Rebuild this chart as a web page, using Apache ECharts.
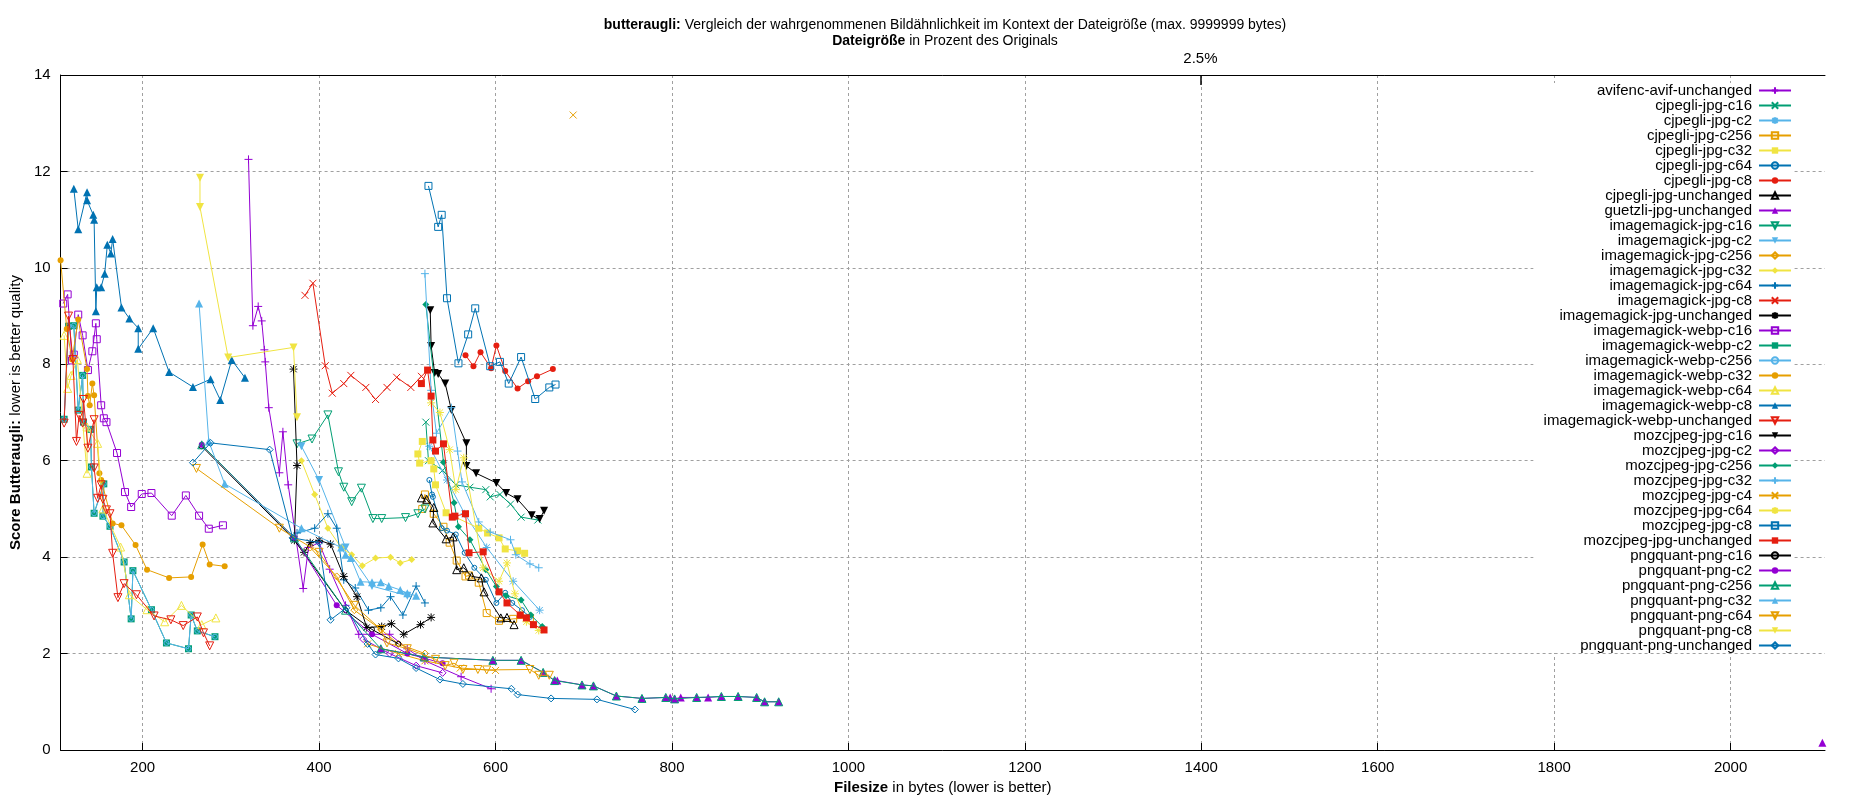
<!DOCTYPE html>
<html><head><meta charset="utf-8">
<script src="https://cdn.jsdelivr.net/npm/echarts@6/dist/echarts.min.js"></script>
<style>html,body{margin:0;padding:0;background:#fff}#c{width:1850px;height:800px}</style>
</head><body><div id="c"></div>
<script>
const xTicks=[200,400,600,800,1000,1200,1400,1600,1800,2000];
const yTicks=[0,2,4,6,8,10,12,14];
const seriesNames=["avifenc-avif-unchanged","cjpegli-jpg-c16","cjpegli-jpg-c2","cjpegli-jpg-c256","cjpegli-jpg-c32","cjpegli-jpg-c64","cjpegli-jpg-c8","cjpegli-jpg-unchanged","guetzli-jpg-unchanged","imagemagick-jpg-c16","imagemagick-jpg-c2","imagemagick-jpg-c256","imagemagick-jpg-c32","imagemagick-jpg-c64","imagemagick-jpg-c8","imagemagick-jpg-unchanged","imagemagick-webp-c16","imagemagick-webp-c2","imagemagick-webp-c256","imagemagick-webp-c32","imagemagick-webp-c64","imagemagick-webp-c8","imagemagick-webp-unchanged","mozcjpeg-jpg-c16","mozcjpeg-jpg-c2","mozcjpeg-jpg-c256","mozcjpeg-jpg-c32","mozcjpeg-jpg-c4","mozcjpeg-jpg-c64","mozcjpeg-jpg-c8","mozcjpeg-jpg-unchanged","pngquant-png-c16","pngquant-png-c2","pngquant-png-c256","pngquant-png-c32","pngquant-png-c64","pngquant-png-c8","pngquant-png-unchanged"];
const avifencAvifUnchanged=[[320,12.25],[325,8.8],[331,9.2],[335,8.9],[338,8.3],[339,8.05],[343,7.1],[355,5.75],[359,6.6],[365,5.5],[382,3.35],[388,4.2],[400,4.3],[412,3.75],[430,3.0],[445,2.4],[480,2.4],[500,2.1],[520,1.85],[561,1.52],[595,1.27]];
const cjpegliC16=[[521,6.8],[524,6.0],[540,5.8],[555,5.5],[571,5.45],[589,5.4],[594,5.25],[605,5.3],[617,5.1],[629,4.83],[648,4.77]];
const cjpegliC2=[[525,6.3],[545,5.6],[565,4.9],[590,4.2],[620,3.5],[650,2.9]];
const cjpegliC256=[[517,5.0],[520,5.3],[530,4.9],[541,4.63],[548,4.3],[556,3.93],[566,3.6],[570,3.62],[581,3.47],[590,2.84],[604,2.68],[620,2.72],[639,2.74]];
const cjpegliC32=[[517,6.4],[512,6.14],[514,5.95],[527,6.0],[530,5.83],[532,5.5],[544,4.92],[581,4.6],[591,4.5],[604,4.4],[611,4.17],[625,4.13],[633,4.08]];
const cjpegliC64=[[525,5.6],[528,5.3],[529,5.25],[539,4.6],[545,4.55],[555,4.47],[565,4.09],[576,3.78],[589,3.53],[601,3.05],[611,3.26],[619,3.05],[630,2.9],[639,2.76]];
const cjpegliC8=[[566,8.19],[575,7.96],[583,8.25],[595,7.92],[601,8.39],[611,7.86],[625,7.5],[637,7.65],[647,7.75],[665,7.9]];
const cjpegliUnchanged=[[516,5.23],[522,5.2],[530,5.03],[529,4.71],[544,4.38],[552,4.42],[556,3.74],[564,3.78],[573,3.6],[584,3.57],[587,3.28],[606,2.74],[613,2.75],[621,2.6]];
const guetzliJpgUnchanged=[[470,2.1],[519,1.93],[597,1.86],[629,1.86],[654,1.61],[667,1.44],[670,1.44],[698,1.35],[711,1.33],[737,1.12],[766,1.07],[793,1.09],[798,1.09],[803,1.06],[810,1.09],[828,1.09],[841,1.09],[856,1.11],[875,1.11],[896,1.09],[905,1.0],[921,1.0],null,[2104,0.15]];
const imJpgC16=[[375,6.35],[392,6.45],[410,6.95],[422,5.77],[428,5.45],[437,5.15],[448,5.43],[461,4.8],[471,4.8],[498,4.82],[512,4.9],[520,5.0]];
const imJpgC2=[[380,6.3],[400,5.6],[430,4.2],[460,3.4],[500,3.2]];
const imJpgC256=[[390,4.2],[420,3.6],[440,2.9],[470,2.5],[490,2.2],[520,2.0]];
const imJpgC32=[[380,6.0],[395,5.3],[410,4.6],[425,4.2],[437,4.05],[449,3.82],[464,3.98],[481,4.0],[492,3.88],[505,3.95]];
const imJpgC64=[[375,4.5],[395,4.6],[410,4.9],[420,4.6],[428,3.53],[441,3.36],[456,2.9],[470,2.95],[481,3.18],[495,2.8],[510,3.4],[520,3.05]];
const imJpgC8=[[384,9.43],[393,9.68],[407,7.97],[415,7.4],[428,7.6],[436,7.77],[453,7.52],[464,7.27],[477,7.52],[488,7.73],[504,7.52],[516,7.75]];
const imJpgUnchanged=[[371,7.9],[375,5.9],[372,4.35],[383,4.1],[390,4.3],[400,4.35],[413,4.27],[428,3.6],[443,3.18],[454,2.54],[471,2.56],[482,2.62],[496,2.4],[515,2.6],[527,2.75]];
const imWebpC16=[[110,9.26],[115,9.45],[120,8.08],[122,8.2],[127,9.03],[132,8.6],[138,7.88],[143,8.27],[147,8.85],[148,8.52],[153,7.15],[156,6.88],[159,6.8],[171,6.16],[180,5.35],[187,5.04],[199,5.31],[210,5.33],[233,4.86],[249,5.28],[264,4.86],[275,4.59],[291,4.66]];
const imWebpC2=[[111,6.86],[116,8.79],[122,8.8],[127,7.05],[132,7.77],[133,6.8],[141,6.65],[142,5.87],[145,4.91],[156,5.52],[155,4.85],[163,4.64],[179,3.9],[187,2.72],[189,3.72],[210,2.91],[227,2.22],[252,2.1],[255,2.8],[262,2.47],[282,2.35]];
const imWebpC256=[[111,6.86],[116,8.79],[122,8.8],[127,7.05],[132,7.77],[133,6.8],[141,6.65],[142,5.87],[145,4.91],[156,5.52],[155,4.85],[163,4.64],[179,3.9],[187,2.72],[189,3.72],[210,2.91],[227,2.22],[252,2.1],[255,2.8],[262,2.47],[282,2.35]];
const imWebpC32=[[107,10.16],[114,8.73],[120,8.1],[127,8.93],[137,7.9],[138,7.34],[140,7.15],[143,7.6],[145,7.36],[151,5.74],[153,5.6],[166,4.7],[176,4.66],[192,4.25],[205,3.74],[230,3.57],[255,3.59],[268,4.26],[276,3.85],[293,3.81]];
const imWebpC64=[[111,8.6],[115,7.5],[119,7.77],[126,8.1],[137,5.74],[137,6.7],[149,6.36],[155,5.0],[175,4.21],[185,3.22],[205,2.91],[225,2.66],[244,3.0],[267,2.6],[283,2.74]];
const imWebpC8=[[122,11.64],[127,10.8],[137,11.57],[137,11.4],[144,11.1],[145,11.0],[147,9.1],[148,9.6],[153,9.6],[157,9.88],[160,10.48],[164,10.3],[166,10.6],[176,9.18],[185,8.95],[195,8.75],[195,8.32],[212,8.75],[230,7.84],[257,7.53],[277,7.69],[288,7.26],[301,8.09],[316,7.72]];
const imWebpUnchanged=[[111,6.78],[116,9.0],[121,8.1],[125,6.4],[128,6.94],[132,6.78],[133,7.27],[138,6.26],[145,6.85],[145,5.85],[149,5.22],[153,5.5],[155,5.2],[159,4.98],[163,4.9],[166,4.08],[172,3.16],[179,3.45],[193,3.22],[213,2.78],[232,2.7],[246,2.58],[262,2.76],[269,2.43],[276,2.16]];
const mozC16=[[526,9.12],[527,8.38],[531,7.82],[535,7.8],[543,7.6],[550,7.05],[567,6.36],[567,5.89],[578,5.74],[601,5.54],[612,5.33],[625,5.2],[641,4.87],[650,4.79],[655,4.96]];
const mozC2=[[450,2.3],[480,2.0],[510,1.75],[540,1.6]];
const mozC256=[[521,9.24],[541,5.97],[553,5.13],[558,4.63],[571,4.36],[589,3.74],[601,3.39],[612,3.2],[629,3.11],[640,2.8],[653,2.56]];
const mozC32=[[520,9.88],[527,7.46],[533,6.57],[550,7.1],[557,6.2],[562,5.56],[581,4.73],[594,4.52],[617,4.36],[623,4.05],[639,3.86],[649,3.78]];
const mozC4=[[455,2.2],[490,2.0],[520,1.85],[560,1.7],[600,1.65],null,[688,13.17]];
const mozC64=[[527,7.2],[537,7.0],[548,6.23],[555,5.4],[564,6.06],[586,3.78],[604,3.5],[613,3.88],[622,3.24],[635,2.66],[649,2.48]];
const mozC8=[[524,11.7],[535,10.85],[539,11.1],[545,9.37],[558,8.02],[569,8.62],[577,9.16],[594,7.96],[605,8.05],[615,7.6],[629,8.15],[645,7.28],[661,7.52],[668,7.58]];
const mozUnchanged=[[516,7.6],[523,7.88],[527,7.34],[529,6.43],[532,6.2],[541,6.35],[551,4.83],[554,4.85],[566,4.9],[570,4.09],[586,4.11],[604,3.28],[613,3.05],[628,2.8],[635,2.74],[643,2.6],[655,2.49]];
const pngC16=[[267,6.3],[370,4.4],[430,2.9],[460,2.5],[490,2.2]];
const pngC2=[[267,6.33],[372,4.4],[420,3.0],[460,2.4],[500,2.0],[540,1.8]];
const pngC256=[[267,6.33],[372,4.4],[430,2.9],[470,2.1],[519,1.93],[597,1.86],[629,1.86],[654,1.61],[667,1.44],[698,1.35],[711,1.33],[737,1.12],[766,1.07],[793,1.09],[803,1.06],[828,1.09],[856,1.11],[875,1.11],[896,1.09],[905,1.0],[921,1.0]];
const pngC32=[[264,9.26],[275,6.4],[293,5.52],[380,4.6],[425,4.2],[430,4.05],[436,3.98],[447,3.49],[460,3.48],[470,3.48],[479,3.4],[492,3.32],[500,3.25],[510,3.2]];
const pngC64=[[261,5.84],[355,4.6],[400,4.1],[440,3.0],[470,2.5],[477,2.22],[500,2.1],[532,1.88],[543,1.75],[553,1.8],[563,1.67],[580,1.67],[590,1.66],[639,1.67],[649,1.55],[661,1.55]];
const pngC8=[[265,11.87],[265,11.26],[297,8.14],[371,8.35],[375,6.9]];
const pngUnchanged=[[257,5.96],[277,6.37],[344,6.23],[370,4.4],[400,4.3],[413,2.7],[431,2.95],[455,2.2],[464,1.98],[490,1.9],[510,1.7],[537,1.46],[563,1.37],[618,1.27],[625,1.15],[663,1.07],[715,1.05],[758,0.84]];
const seriesData=[avifencAvifUnchanged,cjpegliC16,cjpegliC2,cjpegliC256,cjpegliC32,cjpegliC64,cjpegliC8,cjpegliUnchanged,guetzliJpgUnchanged,imJpgC16,imJpgC2,imJpgC256,imJpgC32,imJpgC64,imJpgC8,imJpgUnchanged,imWebpC16,imWebpC2,imWebpC256,imWebpC32,imWebpC64,imWebpC8,imWebpUnchanged,mozC16,mozC2,mozC256,mozC32,mozC4,mozC64,mozC8,mozUnchanged,pngC16,pngC2,pngC256,pngC32,pngC64,pngC8,pngUnchanged];

const palette=['#9400d3','#009e73','#56b4e9','#e69f00','#f0e442','#0072b2','#e51e10','#000000'];
const P={
 plus:['path://M0,5L10,5M5,0L5,10',false,8],
 cross:['path://M0,0L10,10M0,10L10,0',false,7],
 star:['path://M0,5L10,5M5,0L5,10M1,1L9,9M1,9L9,1',false,8],
 osq:['rect',false,7], fsq:['rect',true,7],
 ocir:['circle',false,5], fcir:['circle',true,6],
 otri:['triangle',false,8], ftri:['triangle',true,8],
 odtri:['path://M0,0L10,0L5,9Z',false,8], fdtri:['path://M0,0L10,0L5,9Z',true,8],
 odia:['diamond',false,7], fdia:['diamond',true,7]
};
const cycle=['plus','cross','star','osq','fsq','ocir','fcir','otri','ftri','odtri','fdtri','odia','fdia'];

const series=seriesNames.map((name,i)=>{
 const c=palette[i%8]; const m=P[cycle[i%13]];
 return {name,type:'line',data:seriesData[i],symbol:m[0],symbolSize:m[2],showSymbol:true,connectNulls:false,
  lineStyle:{color:c,width:1},
  itemStyle:{color:m[1]?c:'rgba(255,255,255,0)',borderColor:c,borderWidth:m[1]?0:1},
  emphasis:{disabled:true},animation:false,clip:true,z:2+i/100};
});
const F='Liberation Sans';
const chart=echarts.init(document.getElementById('c'));
chart.setOption({
 animation:false,
 textStyle:{fontFamily:F},
 title:{text:'{b|butteraugli:} Vergleich der wahrgenommenen Bildähnlichkeit im Kontext der Dateigröße (max. 9999999 bytes)\n{b|Dateigröße} in Prozent des Originals',
  left:940,top:12,textAlign:'center',
  textStyle:{fontSize:14,fontWeight:'normal',color:'#000',lineHeight:16,fontFamily:F,rich:{b:{fontWeight:'bold',fontSize:14,fontFamily:F}}}},
 grid:{left:55,right:25,top:75,bottom:50,containLabel:false},
 legend:{orient:'vertical',right:58,top:83,align:'right',itemWidth:32,itemHeight:8,itemGap:0,
  backgroundColor:'#fff',padding:[0,0,0,10],
  textStyle:{fontSize:15,lineHeight:15,color:'#000',fontFamily:F,padding:[0,2,0,0]},data:seriesNames},
 xAxis:[{type:'value',min:107,max:2107,position:'bottom',
  name:'{b|Filesize} in bytes (lower is better)',nameLocation:'middle',nameGap:30,
  nameTextStyle:{fontSize:15,color:'#000',rich:{b:{fontWeight:'bold',fontSize:15}}},
  axisLine:{lineStyle:{color:'#000',width:1}},
  axisTick:{inside:true,length:7,customValues:xTicks,lineStyle:{color:'#000'}},
  axisLabel:{customValues:xTicks,formatter:v=>String(v),fontSize:15,color:'#000',margin:10},
  splitLine:{show:true,lineStyle:{color:'#a0a0a0',type:[3,3],width:1}}},
 {type:'value',min:107,max:2107,position:'top',
  axisLine:{lineStyle:{color:'#000',width:1}},
  axisTick:{inside:true,length:10,customValues:[1399],lineStyle:{color:'#000',width:1.5}},
  axisLabel:{customValues:[1399],formatter:()=>'2.5%',fontSize:15,color:'#000',margin:9},
  splitLine:{show:false}}],
 yAxis:{type:'value',min:0,max:14,interval:2,
  name:'{b|Score Butteraugli:} lower is better quality',nameLocation:'middle',nameGap:33,
  nameTextStyle:{fontSize:15,color:'#000',rich:{b:{fontWeight:'bold',fontSize:15}}},
  axisLine:{show:true,lineStyle:{color:'#000'}},
  axisTick:{inside:true,length:7,lineStyle:{color:'#000'}},
  axisLabel:{fontSize:15,color:'#000',margin:10},
  splitLine:{show:true,lineStyle:{color:'#a0a0a0',type:[3,3],width:1}}},
 series
});
</script></body></html>
